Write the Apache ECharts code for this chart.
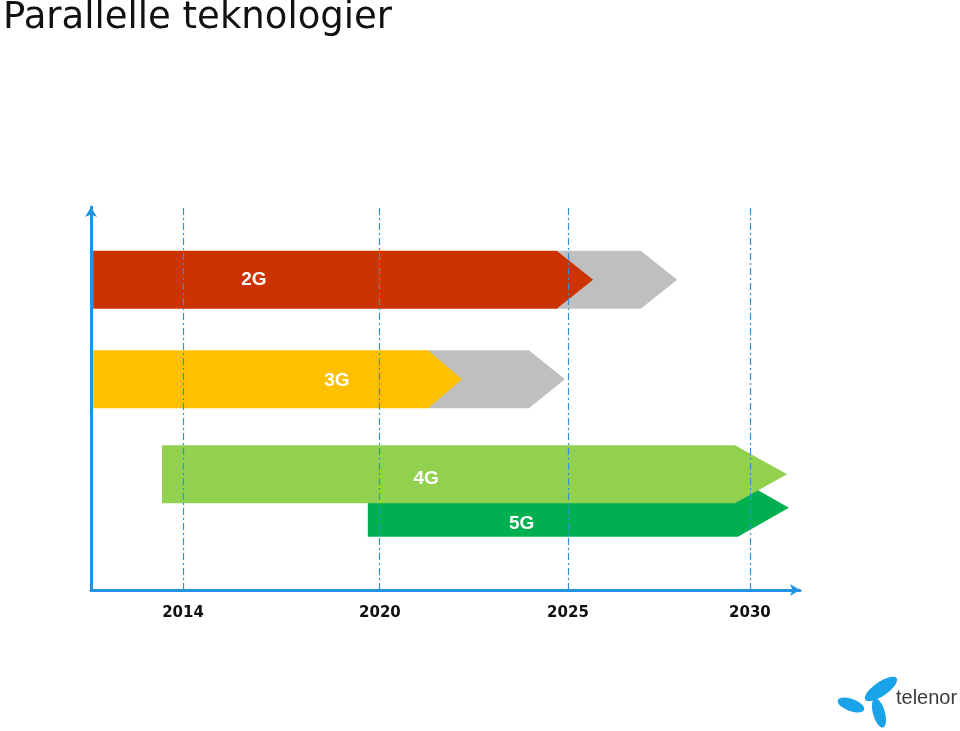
<!DOCTYPE html>
<html>
<head>
<meta charset="utf-8">
<script src="https://cdn.jsdelivr.net/npm/echarts@6/dist/echarts.min.js"></script>
<style>html,body{margin:0;padding:0;background:#fff}#c{width:960px;height:731px}</style>
</head>
<body>
<div id="c"></div>
<script>
// ---- data ----
const techs = ['2G', '3G', '4G', '5G'];
const startYear = [2011.26, 2011.26, 2013.36, 2019.63];
const shoulderYear = [2024.7, 2021.28, 2029.59, 2029.67];
const endYear = [2025.69, 2022.18, 2031.02, 2031.07];
const phaseOutShoulderYear = [2027.0, 2023.96, null, null];
const phaseOutEndYear = [2028.0, 2024.92, null, null];
const lane = [3.24, 2.2, 1.21, 0.86];
const labelYear = [2016.16, 2018.69, 2021.23, 2023.77];
const labelLane = [3.24, 2.19, 1.165, 0.69];
const tickYears = [2014, 2020, 2025, 2030];
const tickLabels = ['2014', '2020', '2025', '2030'];
// timeline axis positions of the tick years (the drawing's time scale is not uniform)
const tickPos = [0, 1.042, 2.037, 3.0];

const colors = ['#CC3300', '#FFC000', '#92D050', '#00B050'];
const grey = '#BFBFBF';
const BAR_H = 0.606;

// piecewise timeline scale
function pos(y) {
  const n = tickYears.length;
  let i = 0;
  if (y <= tickYears[0]) i = 0;
  else if (y >= tickYears[n - 1]) i = n - 2;
  else { while (y > tickYears[i + 1]) i++; }
  return tickPos[i] + (y - tickYears[i]) / (tickYears[i + 1] - tickYears[i]) * (tickPos[i + 1] - tickPos[i]);
}

function chevron(api, x0, xs, xe, yc) {
  const a = api.coord([pos(x0), yc]);
  const s = api.coord([pos(xs), yc]);
  const e = api.coord([pos(xe), yc]);
  const h = api.size([0, BAR_H])[1] / 2;
  return [[a[0], a[1] - h], [s[0], s[1] - h], [e[0], e[1]], [s[0], s[1] + h], [a[0], a[1] + h]];
}

const greyIdx = [0, 1].filter(i => phaseOutEndYear[i] != null);
const order = [3, 2, 1, 0];

const chart = echarts.init(document.getElementById('c'));
chart.setOption({
  animation: false,
  title: {
    text: 'Parallelle teknologier', left: -2, top: -5,
    textStyle: { fontFamily: 'DejaVu Sans', fontWeight: 'normal', fontSize: 37, color: '#111' }
  },
  grid: { left: 91, right: 160, top: 207, bottom: 141 },
  xAxis: {
    type: 'value', min: -0.487, max: 3.265,
    axisLine: { show: true, onZero: false, lineStyle: { color: '#2393E0', width: 3 }, symbol: ['none', 'arrow'], symbolSize: [9, 10] },
    axisTick: { show: false },
    splitLine: { show: false },
    axisLabel: {
      customValues: tickPos,
      formatter: v => tickLabels[tickPos.indexOf(v)],
      margin: 16, fontFamily: 'DejaVu Sans', fontWeight: 'bold', fontSize: 15, color: '#111'
    }
  },
  yAxis: {
    type: 'value', min: 0, max: 4,
    axisLine: { show: true, onZero: false, lineStyle: { color: '#2393E0', width: 3 }, symbol: ['none', 'arrow'], symbolSize: [9, 10] },
    axisTick: { show: false }, axisLabel: { show: false }, splitLine: { show: false }
  },
  series: [
    {
      type: 'custom', z: 1,
      data: greyIdx,
      renderItem: (params, api) => {
        const i = greyIdx[params.dataIndex];
        return { type: 'polygon', shape: { points: chevron(api, shoulderYear[i], phaseOutShoulderYear[i], phaseOutEndYear[i], lane[i]) }, style: { fill: grey } };
      },
      markLine: {
        silent: true, symbol: 'none', label: { show: false },
        lineStyle: { color: '#2E93DA', width: 1.2, type: [7, 3, 2, 3] },
        data: tickYears.map(y => ({ xAxis: pos(y) }))
      }
    },
    {
      type: 'custom', z: 2,
      data: order,
      renderItem: (params, api) => {
        const i = order[params.dataIndex];
        const lp = api.coord([pos(labelYear[i]), labelLane[i]]);
        return {
          type: 'group',
          children: [
            { type: 'polygon', shape: { points: chevron(api, startYear[i], shoulderYear[i], endYear[i], lane[i]) }, style: { fill: colors[i] } },
            { type: 'text', x: lp[0], y: lp[1], style: { text: techs[i], fill: '#fff', font: 'bold 19px "Liberation Sans", Arial', align: 'center', verticalAlign: 'middle' } }
          ]
        };
      }
    }
  ],
  graphic: [
    { type: 'ellipse', shape: { cx: 881, cy: 689, rx: 19, ry: 7 }, rotation: 0.6, originX: 881, originY: 689, style: { fill: '#1AA3E8' } },
    { type: 'ellipse', shape: { cx: 851, cy: 705, rx: 14, ry: 6 }, rotation: -0.35, originX: 851, originY: 705, style: { fill: '#1AA3E8' } },
    { type: 'ellipse', shape: { cx: 879, cy: 713, rx: 15, ry: 6 }, rotation: -1.3, originX: 879, originY: 713, style: { fill: '#1AA3E8' } },
    { type: 'text', x: 896, y: 698, style: { text: 'telenor', font: '20px "Liberation Sans", Arial', fill: '#3a3a3a', verticalAlign: 'middle' } }
  ]
});
</script>
</body>
</html>
